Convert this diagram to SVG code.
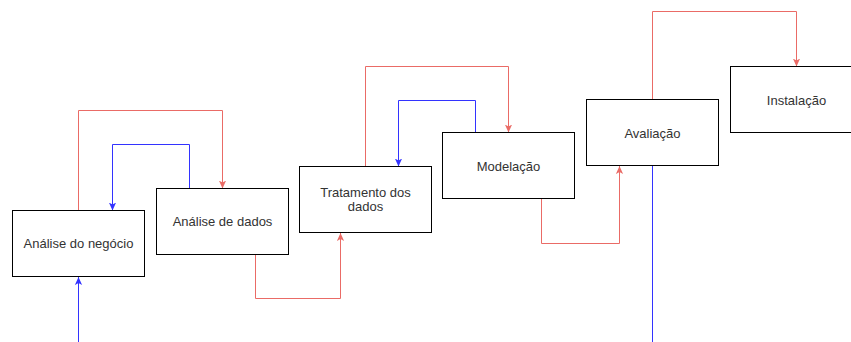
<svg xmlns="http://www.w3.org/2000/svg" width="851" height="342" viewBox="0 0 851 342">
  <style>
    .box rect { fill: #ffffff; stroke: #000000; stroke-width: 1; }
    .box text { font-family: "Liberation Sans", Arial, Helvetica, sans-serif; font-size: 13px; fill: #333333; text-anchor: middle; }
    .fwd { fill: none; stroke: #EA6B66; stroke-width: 1; marker-end: url(#arrow-red); }
    .back { fill: none; stroke: #3333FF; stroke-width: 1; marker-end: url(#arrow-blue); }
    .plain { fill: none; stroke: #3333FF; stroke-width: 1; }
  </style>
  <defs>
    <marker id="arrow-red" viewBox="0 0 10 10" refX="10" refY="5" markerWidth="8" markerHeight="8" markerUnits="userSpaceOnUse" orient="auto">
      <path d="M0,0.5 L10,5 L0,9.5 L2.5,5 Z" fill="#EA6B66"/>
    </marker>
    <marker id="arrow-blue" viewBox="0 0 10 10" refX="10" refY="5" markerWidth="8" markerHeight="8" markerUnits="userSpaceOnUse" orient="auto">
      <path d="M0,0.5 L10,5 L0,9.5 L2.5,5 Z" fill="#3333FF"/>
    </marker>
  </defs>

  <rect width="851" height="342" fill="#ffffff"/>

  <g id="connectors">
    <path class="back" d="M78.5,342 V277"/>
    <path class="fwd" d="M78.5,210.5 V110.5 H222.5 V188.5"/>
    <path class="back" d="M189.5,188.5 V144.5 H112.5 V210.5"/>
    <path class="fwd" d="M255.5,254.5 V298.5 H340.5 V233"/>
    <path class="fwd" d="M365.5,166.5 V66.5 H508.5 V132.5"/>
    <path class="back" d="M475.5,132.5 V100.5 H398.5 V166.5"/>
    <path class="fwd" d="M541.5,198.5 V243.5 H619.5 V166"/>
    <path class="fwd" d="M652.5,99.5 V11.5 H796.5 V66.5"/>
    <path class="plain" d="M652.5,165.5 V342"/>
  </g>

  <g id="analise-negocio" class="box">
    <rect x="12.5" y="210.5" width="132" height="66"/>
    <text x="78.5" y="248">Análise do negócio</text>
  </g>
  <g id="analise-dados" class="box">
    <rect x="156.5" y="188.5" width="132" height="66"/>
    <text x="222.5" y="226">Análise de dados</text>
  </g>
  <g id="tratamento-dados" class="box">
    <rect x="299.5" y="166.5" width="132" height="66"/>
    <text x="365.5" y="196.5">Tratamento dos</text>
    <text x="365.5" y="211">dados</text>
  </g>
  <g id="modelacao" class="box">
    <rect x="442.5" y="132.5" width="132" height="66"/>
    <text x="508.5" y="170.5">Modelação</text>
  </g>
  <g id="avaliacao" class="box">
    <rect x="586.5" y="99.5" width="132" height="66"/>
    <text x="652.5" y="137.5">Avaliação</text>
  </g>
  <g id="instalacao" class="box">
    <rect x="730.5" y="66.5" width="132" height="66"/>
    <text x="796.5" y="104.5">Instalação</text>
  </g>
</svg>
